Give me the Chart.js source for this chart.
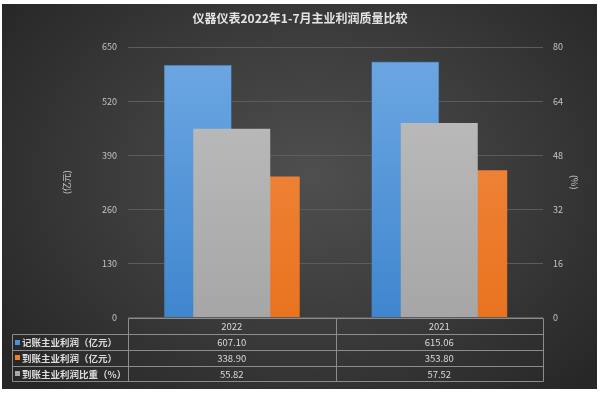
<!DOCTYPE html>
<html>
<head>
<meta charset="utf-8">
<script src="https://cdn.jsdelivr.net/npm/chart.js@4.4.0/dist/chart.umd.min.js"></script>
<style>
  html, body { margin: 0; padding: 0; background: #fff; }
  #wrap { position: relative; width: 600px; height: 393px; overflow: hidden; }
  #painel {
    position: absolute; left: 2px; top: 4px; width: 595px; height: 385px;
    background: radial-gradient(ellipse 65% 75% at 52% 45%, #4f4f4f 0%, #3c3c3c 50%, #272727 100%);
  }
  canvas { position: absolute; left: 0; top: 0; }
</style>
</head>
<body>
<div id="wrap">
  <div id="painel"></div>
  <canvas id="grafico" width="600" height="393"></canvas>
</div>
<script>
// dados
const anos = ['2022', '2021'];
const lucroRegistrado = [607.10, 615.06];   // 记账主业利润（亿元）
const lucroRecebido = [338.90, 353.80];     // 到账主业利润（亿元）
const proporcaoRecebido = [55.82, 57.52];   // 到账主业利润比重（%）
const ticksEsquerda = [0, 130, 260, 390, 520, 650];
const ticksDireita = [0, 16, 32, 48, 64, 80];

const nomesSeries = ['记账主业利润（亿元）', '到账主业利润（亿元）', '到账主业利润比重（%）'];
const coresLegenda = ['#4a8fd8', '#ee7d30', '#a9a9a9'];

Chart.defaults.font.family = '"Noto Sans CJK SC", "Noto Sans", sans-serif';

function gradiente(topo, base) {
    return (contexto) => {
        const area = contexto.chart.chartArea;
        if (!area) return base;
        const g = contexto.chart.ctx.createLinearGradient(0, area.top, 0, area.bottom);
        g.addColorStop(0, topo);
        g.addColorStop(1, base);
        return g;
    };
}

// tabela de dados desenhada por baixo do gráfico
const tabelaPlugin = {
    id: 'tabela',
    afterDraw(chart) {
        const { ctx, chartArea, scales } = chart;
        const x = scales.x;
        const topo = Math.round(chartArea.bottom) + 0.5;
        const alturaLinha = 15.7;
        const esquerda = Math.round(x.left) + 0.5;
        const direita = Math.round(x.right) + 0.5;
        const inicioLegenda = 12.5;
        const meio = Math.round((x.getPixelForValue(0) + x.getPixelForValue(1)) / 2) + 0.5;
        const fim = Math.round(topo + alturaLinha * 4) + 0.5;

        ctx.save();
        ctx.strokeStyle = '#8c8c8c';
        ctx.lineWidth = 1;
        ctx.beginPath();
        ctx.moveTo(esquerda, topo); ctx.lineTo(direita, topo);
        for (let k = 1; k <= 4; k++) {
            const y = Math.round(topo + alturaLinha * k) + 0.5;
            ctx.moveTo(inicioLegenda, y); ctx.lineTo(direita, y);
        }
        ctx.moveTo(esquerda, topo); ctx.lineTo(esquerda, fim);
        ctx.moveTo(meio, topo); ctx.lineTo(meio, fim);
        ctx.moveTo(direita, topo); ctx.lineTo(direita, fim);
        ctx.moveTo(inicioLegenda, Math.round(topo + alturaLinha) + 0.5); ctx.lineTo(inicioLegenda, fim);
        ctx.stroke();

        ctx.fillStyle = '#dcdcdc';
        ctx.textBaseline = 'middle';
        ctx.textAlign = 'center';
        ctx.font = '9.5px "Noto Sans CJK SC", "Noto Sans", sans-serif';
        anos.forEach((ano, i) => {
            ctx.fillText(ano, x.getPixelForValue(i), topo + alturaLinha / 2 + 0.5);
        });

        const linhas = [lucroRegistrado, lucroRecebido, proporcaoRecebido];
        linhas.forEach((valores, r) => {
            const yCentro = topo + alturaLinha * (r + 1.5) + 0.5;
            ctx.fillStyle = coresLegenda[r];
            ctx.fillRect(15, Math.round(yCentro - 3), 5, 5);
            ctx.fillStyle = '#dcdcdc';
            ctx.textAlign = 'left';
            ctx.font = 'bold 9.5px "Noto Sans CJK SC", "Noto Sans", sans-serif';
            ctx.fillText(nomesSeries[r], 22, yCentro);
            ctx.textAlign = 'center';
            ctx.font = '9.5px "Noto Sans CJK SC", "Noto Sans", sans-serif';
            valores.forEach((v, i) => {
                ctx.fillText(v.toFixed(2), x.getPixelForValue(i), yCentro);
            });
        });
        ctx.restore();
    }
};

function criarGrafico() {
    const ctx = document.getElementById('grafico').getContext('2d');
    new Chart(ctx, {
        type: 'bar',
        data: {
            labels: anos,
            datasets: [
                {
                    label: nomesSeries[0],
                    data: lucroRegistrado,
                    yAxisID: 'y',
                    order: 1,
                    backgroundColor: gradiente('#6ea8e3', '#3f86cf'),
                    borderColor: '#3a73ad',
                    borderWidth: 0.6,
                    categoryPercentage: 0.655,
                    barPercentage: 1
                },
                {
                    label: nomesSeries[1],
                    data: lucroRecebido,
                    yAxisID: 'y',
                    order: 1,
                    backgroundColor: gradiente('#f38d47', '#e9731f'),
                    categoryPercentage: 0.655,
                    barPercentage: 1
                },
                {
                    label: nomesSeries[2],
                    data: proporcaoRecebido,
                    yAxisID: 'y1',
                    order: 0,
                    grouped: false,
                    backgroundColor: gradiente('#c0c0c0', '#a6a6a6'),
                    categoryPercentage: 1,
                    barPercentage: 0.371
                }
            ]
        },
        options: {
            responsive: false,
            animation: false,
            layout: { padding: { left: 0, right: 0, top: 0, bottom: 75.5 } },
            plugins: {
                legend: { display: false },
                tooltip: { enabled: false },
                title: {
                    display: true,
                    text: '仪器仪表2022年1-7月主业利润质量比较',
                    color: '#e4e4e4',
                    font: { size: 12, weight: 'bold' },
                    padding: { top: 11, bottom: 21.6 }
                }
            },
            scales: {
                x: { display: false },
                y: {
                    position: 'left',
                    min: 0, max: 650,
                    afterBuildTicks: (s) => { s.ticks = ticksEsquerda.map(v => ({ value: v })); },
                    afterFit: (s) => { s.width = 128; },
                    ticks: { color: '#c4c4c4', font: { size: 9 }, padding: 11 },
                    grid: { color: '#5c5c5c', drawTicks: false },
                    border: { display: false },
                    title: { display: true, text: '(亿元)', color: '#c4c4c4', font: { size: 9 }, padding: { top: 61, bottom: 0 } }
                },
                y1: {
                    position: 'right',
                    min: 0, max: 80,
                    afterBuildTicks: (s) => { s.ticks = ticksDireita.map(v => ({ value: v })); },
                    afterFit: (s) => { s.width = 57; },
                    ticks: { color: '#c4c4c4', font: { size: 9 }, padding: 10 },
                    grid: { drawOnChartArea: false, drawTicks: false },
                    border: { display: false },
                    title: { display: true, text: '(%)', color: '#c4c4c4', font: { size: 9 }, padding: { top: 20, bottom: 0 } }
                }
            }
        },
        plugins: [tabelaPlugin]
    });
}

document.addEventListener('DOMContentLoaded', criarGrafico);
</script>
</body>
</html>
